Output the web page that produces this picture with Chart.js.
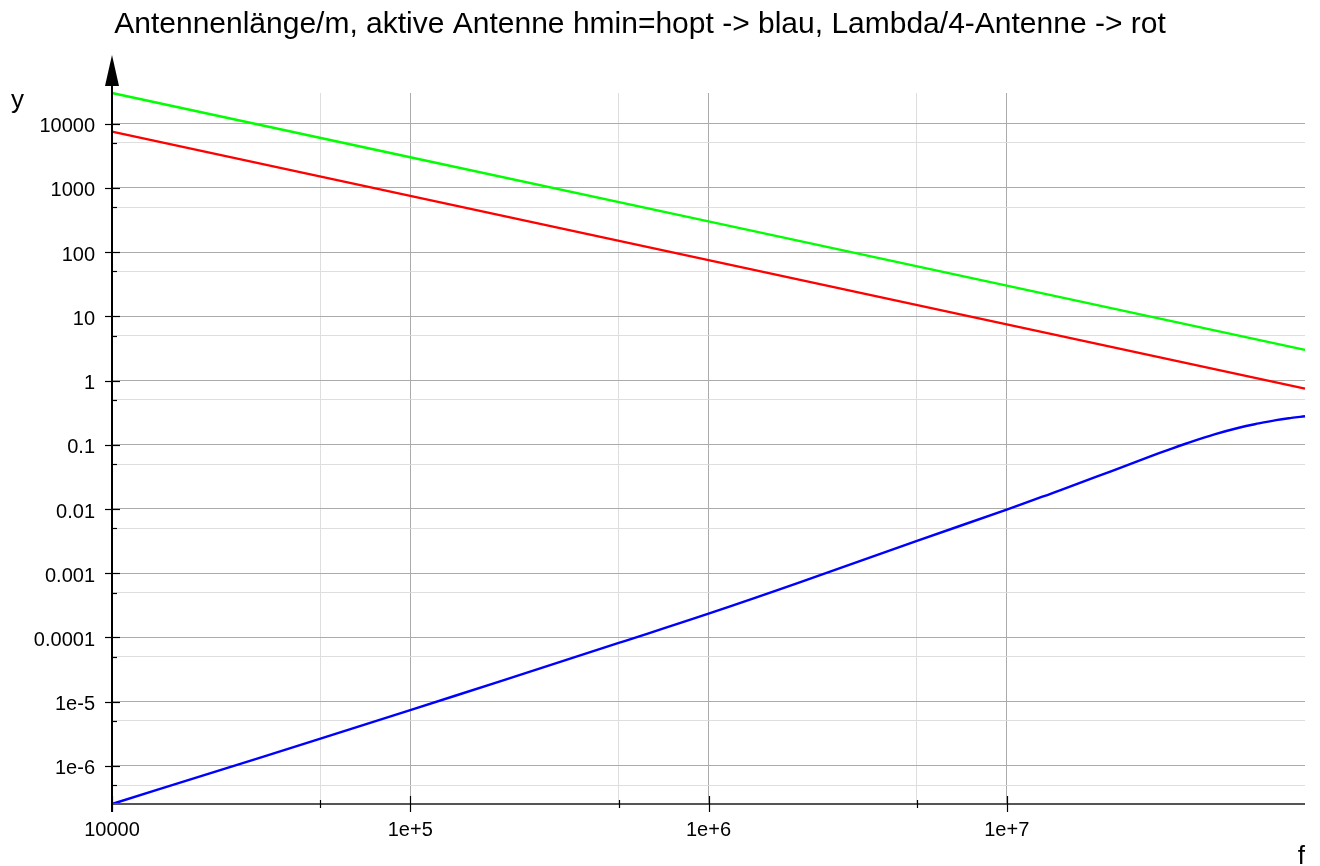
<!DOCTYPE html>
<html>
<head>
<meta charset="utf-8">
<script src="https://cdn.jsdelivr.net/npm/chart.js@4/dist/chart.umd.min.js"></script>
<style>
  html, body { margin: 0; padding: 0; background: #fff; }
  #wrap { width: 1320px; height: 866px; position: relative; }
</style>
</head>
<body>
<div id="wrap"><canvas id="antennaChart"></canvas></div>
<script>
const freqLine = [1e4, 1e5, 1e6, 1e7, 1e8];
const lambdaVals = [30000, 3000, 300, 30, 3];          // gruen
const quarterVals = [7500, 750, 75, 7.5, 0.75];        // rot, Lambda/4

const freqActive = [1e4, 2e4, 5e4, 1e5, 2e5, 5e5, 1e6, 2e6, 5e6, 1e7,
  1.5e7, 2e7, 2.5e7, 3e7, 3.5e7, 4e7, 5e7, 6e7, 7e7, 8e7, 9e7, 1e8];
const activeVals = [2.55e-7, 7.0e-7, 2.65e-6, 7.4e-6, 2.07e-5, 8.2e-5, 2.34e-4, 7.06e-4, 3.2e-3, 9.75e-3,
  0.0194, 0.0318, 0.047, 0.0646, 0.0841, 0.1046, 0.146, 0.184, 0.215, 0.242, 0.262, 0.278]; // blau

// Achsenbeschriftung
const xTickValues = [1e4, 1e5, 1e6, 1e7];
const xTickLabels = ['10000', '1e+5', '1e+6', '1e+7'];
const xMinorValues = [5e4, 5e5, 5e6];
const yTickValues = [1e-6, 1e-5, 1e-4, 1e-3, 1e-2, 0.1, 1, 10, 100, 1000, 10000];
const yTickLabels = ['1e-6', '1e-5', '0.0001', '0.001', '0.01', '0.1', '1', '10', '100', '1000', '10000'];
const yMinorValues = [5e-7, 5e-6, 5e-5, 5e-4, 5e-3, 0.05, 0.5, 5, 50, 500, 5000];

const titel = 'Antennenlänge/m, aktive Antenne hmin=hopt -> blau, Lambda/4-Antenne -> rot';
const FONT = '"Liberation Sans", Arial, Helvetica, sans-serif';

const toPoints = (xs, ys) => xs.map((v, i) => ({ x: v, y: ys[i] }));
const isMajor = (list, v) => list.some(t => Math.abs(Math.log10(t) - Math.log10(v)) < 1e-6);

function gridColor(list) {
  return c => isMajor(list, c.tick.value) ? '#ababab' : '#dedede';
}

// Achsen, Pfeil, Titel
const achsenPlugin = {
  id: 'achsen',
  afterDatasetsDraw(chart) {
    const { ctx, chartArea: a, scales: { x, y } } = chart;
    const line = (x1, y1, x2, y2) => { ctx.beginPath(); ctx.moveTo(x1, y1); ctx.lineTo(x2, y2); ctx.stroke(); };
    ctx.save();
    // x-Achse
    ctx.strokeStyle = '#555'; ctx.lineWidth = 2;
    line(a.left, a.bottom, a.right, a.bottom);
    ctx.strokeStyle = '#000'; ctx.lineWidth = 1.2;
    xTickValues.forEach(v => { const p = Math.round(x.getPixelForValue(v)) + 0.5; line(p, a.bottom - 8, p, a.bottom + 8); });
    xMinorValues.forEach(v => { const p = Math.round(x.getPixelForValue(v)) + 0.5; line(p, a.bottom - 4, p, a.bottom + 4); });
    // y-Achse
    ctx.lineWidth = 2;
    line(a.left, a.top - 8, a.left, a.bottom + 8);
    ctx.lineWidth = 1.2;
    yTickValues.forEach(v => { const p = Math.round(y.getPixelForValue(v)) + 0.5; line(a.left - 7, p, a.left + 8, p); });
    yMinorValues.forEach(v => { const p = Math.round(y.getPixelForValue(v)) + 0.5; line(a.left - 1, p, a.left + 5, p); });
    // Pfeil
    ctx.fillStyle = '#000';
    ctx.beginPath();
    ctx.moveTo(a.left, a.top - 38);
    ctx.lineTo(a.left - 7, a.top - 7);
    ctx.lineTo(a.left + 7, a.top - 7);
    ctx.closePath();
    ctx.fill();
    // Achsennamen
    ctx.font = '26px ' + FONT;
    ctx.textBaseline = 'alphabetic';
    ctx.textAlign = 'left';
    ctx.fillText('y', 11, 108);
    ctx.textAlign = 'right';
    ctx.fillText('f', 1305, 864);
    // Titel
    ctx.font = '30px ' + FONT;
    ctx.textAlign = 'center';
    ctx.fillText(titel, 640, 33);
    ctx.restore();
  }
};

const ctx = document.getElementById('antennaChart').getContext('2d');
new Chart(ctx, {
  type: 'line',
  data: {
    datasets: [
      {
        label: 'Lambda',
        data: toPoints(freqLine, lambdaVals),
        borderColor: '#00ff00',
        borderWidth: 2.4,
        pointRadius: 0,
        clip: 4
      },
      {
        label: 'Lambda/4',
        data: toPoints(freqLine, quarterVals),
        borderColor: '#ff0000',
        borderWidth: 2.4,
        pointRadius: 0,
        clip: 4
      },
      {
        label: 'aktive Antenne',
        data: toPoints(freqActive, activeVals),
        borderColor: '#0000ff',
        borderWidth: 2.4,
        pointRadius: 0,
        tension: 0.4,
        clip: 4
      }
    ]
  },
  options: {
    responsive: true,
    maintainAspectRatio: false,
    animation: false,
    layout: { padding: { top: 93, right: 15, left: 0, bottom: 0 } },
    scales: {
      x: {
        type: 'logarithmic',
        min: 1e4,
        max: 1e8,
        afterBuildTicks: s => { s.ticks = xTickValues.concat(xMinorValues).map(v => ({ value: v })); },
        afterFit: s => { s.height = 62; },
        border: { display: false },
        grid: { color: gridColor(xTickValues), lineWidth: 1, drawTicks: false },
        ticks: {
          autoSkip: false,
          maxRotation: 0,
          padding: 14,
          color: '#000',
          font: { family: FONT, size: 20 },
          callback: v => { const i = xTickValues.findIndex(t => isMajor([t], v)); return i >= 0 ? xTickLabels[i] : ''; }
        }
      },
      y: {
        type: 'logarithmic',
        min: 2.55e-7,
        max: 30000,
        afterBuildTicks: s => { s.ticks = yTickValues.concat(yMinorValues).map(v => ({ value: v })); },
        afterFit: s => { s.width = 112; },
        border: { display: false },
        grid: { color: gridColor(yTickValues), lineWidth: 1, drawTicks: false },
        ticks: {
          autoSkip: false,
          padding: 17,
          labelOffset: 3,
          color: '#000',
          font: { family: FONT, size: 20 },
          callback: v => { const i = yTickValues.findIndex(t => isMajor([t], v)); return i >= 0 ? yTickLabels[i] : ''; }
        }
      }
    },
    plugins: {
      legend: { display: false },
      title: { display: false },
      tooltip: { enabled: false }
    }
  },
  plugins: [achsenPlugin]
});
</script>
</body>
</html>
